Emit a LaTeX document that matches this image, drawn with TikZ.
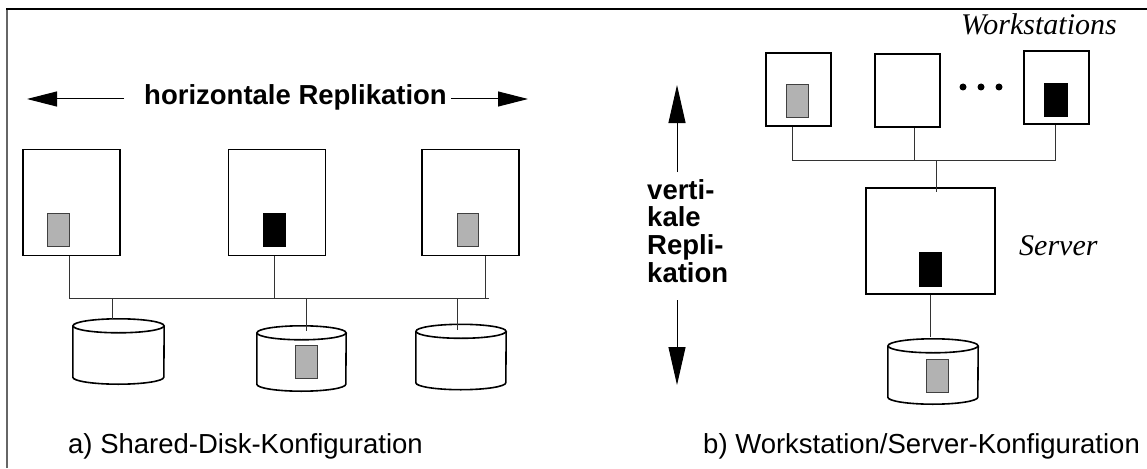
\documentclass[tikz,border=0pt]{standalone}
\usepackage{fontspec}
\setmainfont{Liberation Sans}
\newfontfamily\timesit{Liberation Serif}
\usetikzlibrary{arrows.meta,calc}
\newcommand\drawdisk[2]{%
  \draw[diskline] ([yshift=-7pt]#1.north west) -- ([yshift=7pt]#1.south west)
    arc[start angle=180,end angle=360,x radius=#2pt,y radius=7pt]
    -- ([yshift=-7pt]#1.north east);
  \draw[diskline] ([yshift=-7pt]#1.north) ellipse[x radius=#2pt,y radius=7pt];
}
\newcommand\vtightlines{\lineskiplimit=-50pt\relax\lineskip=0pt\relax}
\begin{document}
\begin{tikzpicture}[x=1pt,y=-1pt,
  every node/.style={inner sep=0pt},
  comp/.style={draw, line width=1.8pt, fill=white, inner sep=0pt},
  bigbox/.style={comp, minimum width=97pt, minimum height=106pt},
  wsbox/.style={comp, minimum width=65pt, minimum height=73pt},
  srvbox/.style={comp, minimum width=129pt, minimum height=106pt},
  gobj/.style={draw=black!75, line width=0.9pt, fill=black!30, minimum width=21.5pt, minimum height=33pt},
  bobj/.style={draw=black, line width=0.9pt, fill=black, minimum width=22pt, minimum height=33pt},
  diskarea/.style={minimum width=#1, minimum height=65pt},
  diskline/.style={line width=1.6pt},
  wire/.style={line width=1pt, draw=black!80},
  dot/.style={circle, fill=black, minimum size=7pt},
  harrow/.style={line width=1pt, -{Triangle[length=30pt,width=15pt]}},
  varrow/.style={line width=1pt, -{Triangle[length=38pt,width=17pt]}},
  boldlabel/.style={font=\fontsize{27.5}{27.7}\selectfont\bfseries},
  vlabel/.style={font=\fontsize{27.5}{27.7}\selectfont\bfseries\vtightlines},
  caption/.style={font=\fontsize{27.5}{33}\selectfont},
  itlabel/.style={font=\fontsize{30}{36}\selectfont\timesit\itshape}
]
\useasboundingbox (0,0) rectangle (1147,468);
% frame
\draw[line width=1.6pt, draw=black!60] (7,468) -- (7,9);
\draw[line width=1.3pt] (6.2,9) -- (1147,9);

% ---------- a) shared disk ----------
\node[boldlabel, anchor=base] (ht) at (295.5,105) {horizontale Replikation};
\coordinate (hl) at (27,99);
\coordinate (hr) at (528,99);
\draw[harrow] ([xshift=-20pt]ht.west |- hl) -- (hl);
\draw[harrow] ([xshift=4pt]ht.east |- hr) -- (hr);

\node[bigbox] (b1) at (71.5,202.5) {};
\node[bigbox] (b2) at (277,202.5) {};
\node[bigbox] (b3) at (470.5,202.5) {};
\node[gobj] (o1) at (58.2,230) {};
\node[bobj] (o2) at (274,230) {};
\node[gobj] (o3) at (468,230) {};

\node[diskarea=91pt] (d1) at (118.5,351.5) {};
\node[diskarea=89pt] (d2) at (301.5,358.5) {};
\node[diskarea=90pt] (d3) at (461,357) {};
\drawdisk{d1}{45.5}
\drawdisk{d2}{44.5}
\drawdisk{d3}{45}
\node[gobj] (o4) at (306.5,362) {};

\coordinate (j1) at (69,298);
\coordinate (j2) at (274,298);
\coordinate (j3) at (485,298);
\coordinate (jend) at (489,298);
\coordinate (k1) at (112.5,298);
\coordinate (k2) at (306,298);
\coordinate (k3) at (457,298);
\draw[wire] (b1.south -| j1) -- (j1) -- (jend);
\draw[wire] (b2.south -| j2) -- (j2);
\draw[wire] (b3.south -| j3) -- (j3);
\draw[wire] (k1) -- (k1 |- d1.north);
\draw[wire] (k2) -- ([yshift=-5pt]k2 |- d2.north);
\draw[wire] (k3) -- ([yshift=-6pt]k3 |- d3.north);

\node[caption, anchor=base west] (capa) at (68,453) {a) Shared-Disk-Konfiguration};

% ---------- b) workstation/server ----------
\coordinate (vt) at (677,85);
\coordinate (vts) at (677,172);
\coordinate (vb) at (677,385);
\coordinate (vbs) at (677,300);
\draw[varrow] (vts) -- (vt);
\draw[varrow] (vbs) -- (vb);
\node[vlabel, align=left, anchor=north west] (vl) at (647,179) {verti-\\kale\\Repli-\\kation};

\node[itlabel, anchor=base east] (wsl) at (1117,35) {Workstations};
\node[wsbox] (wa) at (798.5,89.5) {};
\node[wsbox] (wb) at (907.5,90.5) {};
\node[wsbox] (wc) at (1056.5,87.5) {};
\node[gobj] (o5) at (797.5,100.5) {};
\node[bobj, minimum width=23pt] (o6) at (1055.5,99.5) {};
\node[dot] (p1) at (963,87) {};
\node[dot] (p2) at (981,87) {};
\node[dot] (p3) at (999,87) {};

\node[srvbox] (srv) at (930.5,241) {};
\node[bobj, minimum height=34pt] (o7) at (930,269) {};
\node[itlabel, anchor=base west] (srvl) at (1019,255) {Server};

\node[diskarea=90pt] (sd) at (933,371.5) {};
\drawdisk{sd}{45}
\node[gobj, minimum width=22pt, minimum height=33pt] (o8) at (937,375.5) {};

\coordinate (ja) at (792,160);
\coordinate (jb) at (914,160);
\coordinate (jc) at (1055,160);
\coordinate (js) at (936,160);
\draw[wire] (wa.south -| ja) -- (ja) -- (jc) -- (wc.south -| jc);
\draw[wire] (wb.south -| jb) -- (jb);
\draw[wire] (js) -- ([yshift=-5pt]js |- srv.north);
\draw[wire] (srv.south) -- ([yshift=2pt]srv.south |- sd.north);

\node[caption, anchor=base west] (capb) at (703,453) {b) Workstation/Server-Konfiguration};
\end{tikzpicture}
\end{document}
